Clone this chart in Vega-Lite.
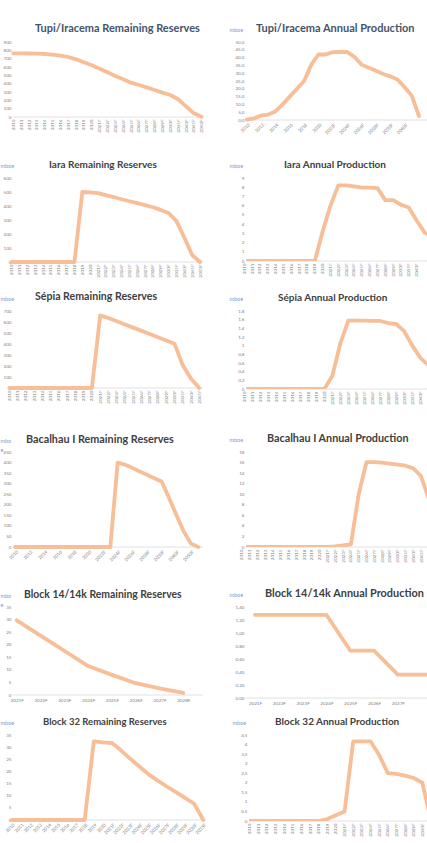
{
  "$schema": "https://vega.github.io/schema/vega-lite/v6.json",
  "padding": {"top": 22, "left": 0, "right": 0, "bottom": 0},
  "background": "white",
  "config": {
    "view": {"stroke": null},
    "font": "Lato",
    "axis": {"grid": false, "ticks": false, "domain": false, "labelOverlap": false, "labelFont": "Lato", "labelFontSize": 4.6, "labelColor": "#7F7F7F", "labelPadding": 2, "titleFont": "Lato", "titleFontSize": 5.5, "titleFontWeight": "normal", "titleColor": "#7C9CD4"},
    "axisY": {"titleAngle": 0, "titleAlign": "left", "titleBaseline": "middle", "titleY": -13},
    "title": {"font": "Lato", "fontSize": 10, "fontWeight": "bold", "color": "#404040", "frame": "group", "anchor": "start", "baseline": "middle", "offset": -6.75},
    "line": {"color": "#F7BE97", "strokeWidth": 3.8, "strokeJoin": "round", "strokeCap": "round"}
  },
  "datasets": {
    "tupi_res": [
      {"year": "2010", "value": 764}, {"year": "2011", "value": 764}, {"year": "2012", "value": 762}, {"year": "2013", "value": 760}, {"year": "2014", "value": 756}, {"year": "2015", "value": 748}, {"year": "2016", "value": 736}, {"year": "2017", "value": 720}, {"year": "2018", "value": 692}, {"year": "2019", "value": 656}, {"year": "2020", "value": 620}, {"year": "2021F", "value": 580}, {"year": "2022F", "value": 536}, {"year": "2023F", "value": 492}, {"year": "2024F", "value": 452}, {"year": "2025F", "value": 412}, {"year": "2026F", "value": 384}, {"year": "2027F", "value": 356}, {"year": "2028F", "value": 324}, {"year": "2029F", "value": 292}, {"year": "2030F", "value": 264}, {"year": "2035F", "value": 213}, {"year": "2040F", "value": 128}, {"year": "2045F", "value": 44}, {"year": "2050F", "value": 4}
    ],
    "tupi_prod": [
      {"year": "2010", "value": 0.3}, {"year": "2011", "value": 1.0}, {"year": "2012", "value": 2.8}, {"year": "2013", "value": 3.5}, {"year": "2014", "value": 5.5}, {"year": "2015", "value": 10.0}, {"year": "2016", "value": 15.0}, {"year": "2017", "value": 20.0}, {"year": "2018", "value": 25.0}, {"year": "2019", "value": 35.5}, {"year": "2020", "value": 42.0}, {"year": "2021F", "value": 42.0}, {"year": "2022F", "value": 43.5}, {"year": "2023F", "value": 43.6}, {"year": "2024F", "value": 43.6}, {"year": "2025F", "value": 40.5}, {"year": "2026F", "value": 35.5}, {"year": "2027F", "value": 33.5}, {"year": "2028F", "value": 31.5}, {"year": "2029F", "value": 29.5}, {"year": "2030F", "value": 28.0}, {"year": "2035F", "value": 26.0}, {"year": "2040F", "value": 21.0}, {"year": "2045F", "value": 15.5}, {"year": "2050F", "value": 2.5}
    ],
    "iara_res": [
      {"year": "2010", "value": 0}, {"year": "2011", "value": 0}, {"year": "2012", "value": 0}, {"year": "2013", "value": 0}, {"year": "2014", "value": 0}, {"year": "2015", "value": 0}, {"year": "2016", "value": 0}, {"year": "2017", "value": 0}, {"year": "2018", "value": 0}, {"year": "2019", "value": 500}, {"year": "2020", "value": 498}, {"year": "2021F", "value": 492}, {"year": "2022F", "value": 478}, {"year": "2023F", "value": 464}, {"year": "2024F", "value": 448}, {"year": "2025F", "value": 434}, {"year": "2026F", "value": 420}, {"year": "2027F", "value": 406}, {"year": "2028F", "value": 391}, {"year": "2029F", "value": 372}, {"year": "2030F", "value": 350}, {"year": "2035F", "value": 292}, {"year": "2040F", "value": 175}, {"year": "2045F", "value": 50}, {"year": "2050F", "value": 0}
    ],
    "iara_prod": [
      {"year": "2010", "value": 0}, {"year": "2011", "value": 0}, {"year": "2012", "value": 0}, {"year": "2013", "value": 0}, {"year": "2014", "value": 0}, {"year": "2015", "value": 0}, {"year": "2016", "value": 0}, {"year": "2017", "value": 0}, {"year": "2018", "value": 0}, {"year": "2019", "value": 0}, {"year": "2020", "value": 3.2}, {"year": "2021F", "value": 6.0}, {"year": "2022F", "value": 8.2}, {"year": "2023F", "value": 8.2}, {"year": "2024F", "value": 8.1}, {"year": "2025F", "value": 7.95}, {"year": "2026F", "value": 7.95}, {"year": "2027F", "value": 7.9}, {"year": "2028F", "value": 6.6}, {"year": "2029F", "value": 6.6}, {"year": "2030F", "value": 6.1}, {"year": "2035F", "value": 5.8}, {"year": "2040F", "value": 4.4}, {"year": "2045F", "value": 3.1}, {"year": "2050F", "value": 2.6}
    ],
    "sepia_res": [
      {"year": "2010", "value": 0}, {"year": "2011", "value": 0}, {"year": "2012", "value": 0}, {"year": "2013", "value": 0}, {"year": "2014", "value": 0}, {"year": "2015", "value": 0}, {"year": "2016", "value": 0}, {"year": "2017", "value": 0}, {"year": "2018", "value": 0}, {"year": "2019", "value": 0}, {"year": "2020", "value": 0}, {"year": "2021F", "value": 660}, {"year": "2022F", "value": 636}, {"year": "2023F", "value": 607}, {"year": "2024F", "value": 578}, {"year": "2025F", "value": 549}, {"year": "2026F", "value": 520}, {"year": "2027F", "value": 490}, {"year": "2028F", "value": 461}, {"year": "2029F", "value": 432}, {"year": "2030F", "value": 403}, {"year": "2035F", "value": 206}, {"year": "2040F", "value": 85}, {"year": "2045F", "value": 0}
    ],
    "sepia_prod": [
      {"year": "2010", "value": 0}, {"year": "2011", "value": 0}, {"year": "2012", "value": 0}, {"year": "2013", "value": 0}, {"year": "2014", "value": 0}, {"year": "2015", "value": 0}, {"year": "2016", "value": 0}, {"year": "2017", "value": 0}, {"year": "2018", "value": 0}, {"year": "2019", "value": 0}, {"year": "2020", "value": 0}, {"year": "2021F", "value": 0.3}, {"year": "2022F", "value": 1.05}, {"year": "2023F", "value": 1.58}, {"year": "2024F", "value": 1.58}, {"year": "2025F", "value": 1.58}, {"year": "2026F", "value": 1.57}, {"year": "2027F", "value": 1.57}, {"year": "2028F", "value": 1.52}, {"year": "2029F", "value": 1.5}, {"year": "2030F", "value": 1.33}, {"year": "2035F", "value": 1.0}, {"year": "2040F", "value": 0.72}, {"year": "2045F", "value": 0.55}
    ],
    "bac_res": [
      {"year": "2010", "value": 0}, {"year": "2011", "value": 0}, {"year": "2012", "value": 0}, {"year": "2013", "value": 0}, {"year": "2014", "value": 0}, {"year": "2015", "value": 0}, {"year": "2016", "value": 0}, {"year": "2017", "value": 0}, {"year": "2018", "value": 0}, {"year": "2019", "value": 0}, {"year": "2020", "value": 0}, {"year": "2021F", "value": 0}, {"year": "2022F", "value": 0}, {"year": "2023F", "value": 0}, {"year": "2024F", "value": 400}, {"year": "2025F", "value": 390}, {"year": "2026F", "value": 375}, {"year": "2027F", "value": 358}, {"year": "2028F", "value": 342}, {"year": "2029F", "value": 326}, {"year": "2030F", "value": 310}, {"year": "2035F", "value": 233}, {"year": "2040F", "value": 153}, {"year": "2045F", "value": 74}, {"year": "2050F", "value": 16}, {"year": "2055F", "value": 0}
    ],
    "bac_prod": [
      {"year": "2010", "value": 0}, {"year": "2011", "value": 0}, {"year": "2012", "value": 0}, {"year": "2013", "value": 0}, {"year": "2014", "value": 0}, {"year": "2015", "value": 0}, {"year": "2016", "value": 0}, {"year": "2017", "value": 0}, {"year": "2018", "value": 0}, {"year": "2019", "value": 0}, {"year": "2020", "value": 0}, {"year": "2021F", "value": 0}, {"year": "2022F", "value": 0.1}, {"year": "2023F", "value": 0.3}, {"year": "2024F", "value": 0.5}, {"year": "2025F", "value": 10.0}, {"year": "2026F", "value": 16.1}, {"year": "2027F", "value": 16.1}, {"year": "2028F", "value": 16.0}, {"year": "2029F", "value": 15.8}, {"year": "2030F", "value": 15.6}, {"year": "2035F", "value": 15.4}, {"year": "2040F", "value": 14.9}, {"year": "2045F", "value": 13.4}, {"year": "2050F", "value": 9.0}, {"year": "2055F", "value": 3.0}
    ],
    "b14_res": [
      {"year": "2021F", "value": 29.7}, {"year": "2022F", "value": 23.6}, {"year": "2023F", "value": 17.6}, {"year": "2024F", "value": 11.5}, {"year": "2025F", "value": 8.0}, {"year": "2026F", "value": 4.7}, {"year": "2027F", "value": 2.6}, {"year": "2028F", "value": 0.8}
    ],
    "b14_prod": [
      {"year": "2021F", "value": 1.28}, {"year": "2022F", "value": 1.28}, {"year": "2023F", "value": 1.28}, {"year": "2024F", "value": 1.28}, {"year": "2025F", "value": 0.73}, {"year": "2026F", "value": 0.73}, {"year": "2027F", "value": 0.36}, {"year": "2028F", "value": 0.36}, {"year": "2029F", "value": 0.36}
    ],
    "b32_res": [
      {"year": "2010", "value": 0}, {"year": "2011", "value": 0}, {"year": "2012", "value": 0}, {"year": "2013", "value": 0}, {"year": "2014", "value": 0}, {"year": "2015", "value": 0}, {"year": "2016", "value": 0}, {"year": "2017", "value": 0}, {"year": "2018", "value": 0}, {"year": "2019", "value": 32.4}, {"year": "2020", "value": 32.0}, {"year": "2021F", "value": 31.7}, {"year": "2022F", "value": 28.6}, {"year": "2023F", "value": 25.2}, {"year": "2024F", "value": 22.0}, {"year": "2025F", "value": 18.8}, {"year": "2026F", "value": 16.2}, {"year": "2027F", "value": 13.8}, {"year": "2028F", "value": 11.5}, {"year": "2029F", "value": 9.1}, {"year": "2030F", "value": 6.7}, {"year": "2035F", "value": 0}
    ],
    "b32_prod": [
      {"year": "2010", "value": 0}, {"year": "2011", "value": 0}, {"year": "2012", "value": 0}, {"year": "2013", "value": 0}, {"year": "2014", "value": 0}, {"year": "2015", "value": 0}, {"year": "2016", "value": 0}, {"year": "2017", "value": 0}, {"year": "2018", "value": 0}, {"year": "2019", "value": 0.1}, {"year": "2020", "value": 0.3}, {"year": "2021F", "value": 0.5}, {"year": "2022F", "value": 4.17}, {"year": "2023F", "value": 4.17}, {"year": "2024F", "value": 4.17}, {"year": "2025F", "value": 3.45}, {"year": "2026F", "value": 2.5}, {"year": "2027F", "value": 2.47}, {"year": "2028F", "value": 2.37}, {"year": "2029F", "value": 2.25}, {"year": "2030F", "value": 2.0}, {"year": "2035F", "value": 0}
    ]
  },
  "vconcat": [
    {
      "hconcat": [
        {
          "width": 190, "height": 75,
          "title": {"text": "Tupi/Iracema Remaining Reserves", "color": "#44546A", "fontSize": 11, "dx": 22},
          "layer": [
            {"data": {"values": [{}]}, "mark": {"type": "rule", "color": "#D9D9D9", "strokeWidth": 0.8}, "encoding": {"y": {"datum": 0, "type": "quantitative", "axis": {"title": "mboe", "titleOpacity": 0, "titleX": -13, "minExtent": 13, "values": [0, 100, 200, 300, 400, 500, 600, 700, 800, 900]}}}},
            {"data": {"name": "tupi_res"}, "mark": "line", "encoding": {
              "x": {"field": "year", "type": "ordinal", "sort": null, "scale": {"type": "point", "padding": 0, "range": [0.3, 188.7]}, "axis": {"title": null, "labelAngle": -90, "minExtent": 36.5}},
              "y": {"field": "value", "type": "quantitative", "scale": {"domain": [0, 900], "nice": false}, "axis": {"title": "mboe", "titleOpacity": 0, "titleX": -13, "minExtent": 13, "values": [0, 100, 200, 300, 400, 500, 600, 700, 800, 900]}}
            }}
          ]
        },
        {
          "width": 181, "height": 78,
          "title": {"text": "Tupi/Iracema Annual Production", "color": "#44546A", "fontSize": 11, "dx": 10},
          "layer": [
            {"data": {"values": [{}]}, "mark": {"type": "rule", "color": "#D9D9D9", "strokeWidth": 0.8}, "encoding": {"y": {"datum": 0, "type": "quantitative", "axis": {"title": "mboe", "titleX": -17, "minExtent": 17, "values": [0, 5, 10, 15, 20, 25, 30, 35, 40, 45, 50], "format": ".1f", "labelExpr": "replace(datum.label, '.', ',')"}}}},
            {"data": {"name": "tupi_prod"}, "mark": "line", "encoding": {
              "x": {"field": "year", "type": "ordinal", "sort": null, "scale": {"type": "point", "padding": 0, "range": [0.7, 173]}, "axis": {"title": null, "labelAngle": -45, "minExtent": 36.5, "values": ["2010", "2012", "2014", "2016", "2018", "2020", "2022F", "2024F", "2026F", "2028F", "2030F", "2040F"]}},
              "y": {"field": "value", "type": "quantitative", "scale": {"domain": [0, 50], "nice": false}, "axis": {"title": "mboe", "titleX": -17, "minExtent": 17, "values": [0, 5, 10, 15, 20, 25, 30, 35, 40, 45, 50], "format": ".1f", "labelExpr": "replace(datum.label, '.', ',')"}}
            }}
          ]
        }
      ],
      "spacing": 25
    },
    {
      "hconcat": [
        {
          "width": 190, "height": 84,
          "title": {"text": "Iara Remaining Reserves", "dx": 36},
          "layer": [
            {"data": {"values": [{}]}, "mark": {"type": "rule", "color": "#D9D9D9", "strokeWidth": 0.8}, "encoding": {"y": {"datum": 0, "type": "quantitative", "axis": {"title": "mboe", "titleX": -13, "minExtent": 13, "values": [0, 100, 200, 300, 400, 500, 600]}}}},
            {"data": {"name": "iara_res"}, "mark": "line", "encoding": {
              "x": {"field": "year", "type": "ordinal", "sort": null, "scale": {"type": "point", "padding": 0, "range": [-1.3, 187]}, "axis": {"title": null, "labelAngle": -90, "minExtent": 27.25}},
              "y": {"field": "value", "type": "quantitative", "scale": {"domain": [0, 600], "nice": false}, "axis": {"title": "mboe", "titleX": -13, "minExtent": 13, "values": [0, 100, 200, 300, 400, 500, 600]}}
            }}
          ]
        },
        {
          "width": 181, "height": 83,
          "title": {"text": "Iara Annual Production", "dx": 38},
          "layer": [
            {"data": {"values": [{}]}, "mark": {"type": "rule", "color": "#D9D9D9", "strokeWidth": 0.8}, "encoding": {"y": {"datum": 0, "type": "quantitative", "axis": {"title": "mboe", "titleX": -17, "minExtent": 17, "values": [0, 1, 2, 3, 4, 5, 6, 7, 8, 9]}}}},
            {"data": {"name": "iara_prod"}, "mark": {"type": "line", "clip": true}, "encoding": {
              "x": {"field": "year", "type": "ordinal", "sort": null, "scale": {"type": "point", "padding": 0, "range": [-1.7, 186.3]}, "axis": {"title": null, "labelAngle": -90, "minExtent": 27.25, "values": ["2010", "2011", "2012", "2013", "2014", "2015", "2016", "2017", "2018", "2019", "2020", "2021F", "2022F", "2023F", "2024F", "2025F", "2026F", "2027F", "2028F", "2029F", "2030F", "2035F", "2040F"]}},
              "y": {"field": "value", "type": "quantitative", "scale": {"domain": [0, 9], "nice": false}, "axis": {"title": "mboe", "titleX": -17, "minExtent": 17, "values": [0, 1, 2, 3, 4, 5, 6, 7, 8, 9]}}
            }}
          ]
        }
      ],
      "spacing": 25
    },
    {
      "hconcat": [
        {
          "width": 190, "height": 77,
          "title": {"text": "Sépia Remaining Reserves", "dx": 22, "fontSize": 10.6},
          "layer": [
            {"data": {"values": [{}]}, "mark": {"type": "rule", "color": "#D9D9D9", "strokeWidth": 0.8}, "encoding": {"y": {"datum": 0, "type": "quantitative", "axis": {"title": "mboe", "titleX": -13, "minExtent": 13, "values": [0, 100, 200, 300, 400, 500, 600, 700]}}}},
            {"data": {"name": "sepia_res"}, "mark": "line", "encoding": {
              "x": {"field": "year", "type": "ordinal", "sort": null, "scale": {"type": "point", "padding": 0, "range": [-3.7, 186.3]}, "axis": {"title": null, "labelAngle": -90, "minExtent": 40.25}},
              "y": {"field": "value", "type": "quantitative", "scale": {"domain": [0, 700], "nice": false}, "axis": {"title": "mboe", "titleX": -13, "minExtent": 13, "values": [0, 100, 200, 300, 400, 500, 600, 700]}}
            }}
          ]
        },
        {
          "width": 181, "height": 78,
          "title": {"text": "Sépia Annual Production", "dx": 32},
          "layer": [
            {"data": {"values": [{}]}, "mark": {"type": "rule", "color": "#D9D9D9", "strokeWidth": 0.8}, "encoding": {"y": {"datum": 0, "type": "quantitative", "axis": {"title": "mboe", "titleX": -17, "minExtent": 17, "values": [0, 0.2, 0.4, 0.6, 0.8, 1, 1.2, 1.4, 1.6, 1.8], "format": "~g", "labelExpr": "replace(datum.label, '.', ',')"}}}},
            {"data": {"name": "sepia_prod"}, "mark": {"type": "line", "clip": true}, "encoding": {
              "x": {"field": "year", "type": "ordinal", "sort": null, "scale": {"type": "point", "padding": 0, "range": [-1.7, 182.3]}, "axis": {"title": null, "labelAngle": -90, "minExtent": 40.25, "values": ["2010", "2011", "2012", "2013", "2014", "2015", "2016", "2017", "2018", "2019", "2020", "2021F", "2022F", "2023F", "2024F", "2025F", "2026F", "2027F", "2028F", "2029F", "2030F", "2035F", "2040F"]}},
              "y": {"field": "value", "type": "quantitative", "scale": {"domain": [0, 1.8], "nice": false}, "axis": {"title": "mboe", "titleX": -17, "minExtent": 17, "values": [0, 0.2, 0.4, 0.6, 0.8, 1, 1.2, 1.4, 1.6, 1.8], "format": "~g", "labelExpr": "replace(datum.label, '.', ',')"}}
            }}
          ]
        }
      ],
      "spacing": 25
    },
    {
      "hconcat": [
        {
          "width": 190, "height": 95,
          "title": {"text": "Bacalhau I Remaining Reserves", "dx": 13, "fontSize": 10.8},
          "layer": [
            {"data": {"values": [{}]}, "mark": {"type": "rule", "color": "#D9D9D9", "strokeWidth": 0.8}, "encoding": {"y": {"datum": 0, "type": "quantitative", "axis": {"title": ["mbo", "e"], "titleLineHeight": 9, "titleY": -11.5, "titleX": -13, "minExtent": 13, "values": [0, 50, 100, 150, 200, 250, 300, 350, 400, 450]}}}},
            {"data": {"name": "bac_res"}, "mark": "line", "encoding": {
              "x": {"field": "year", "type": "ordinal", "sort": null, "scale": {"type": "point", "padding": 0, "range": [2, 185.3]}, "axis": {"title": null, "labelAngle": -45, "minExtent": 37.25, "values": ["2010", "2012", "2014", "2016", "2018", "2020", "2022F", "2024F", "2026F", "2028F", "2030F", "2040F", "2050F"]}},
              "y": {"field": "value", "type": "quantitative", "scale": {"domain": [0, 450], "nice": false}, "axis": {"title": ["mbo", "e"], "titleLineHeight": 9, "titleY": -11.5, "titleX": -13, "minExtent": 13, "values": [0, 50, 100, 150, 200, 250, 300, 350, 400, 450]}}
            }}
          ]
        },
        {
          "width": 181, "height": 95,
          "title": {"text": "Bacalhau I Annual Production", "dx": 21, "fontSize": 10.8},
          "layer": [
            {"data": {"values": [{}]}, "mark": {"type": "rule", "color": "#D9D9D9", "strokeWidth": 0.8}, "encoding": {"y": {"datum": 0, "type": "quantitative", "axis": {"title": "mboe", "titleX": -17, "minExtent": 17, "values": [0, 2, 4, 6, 8, 10, 12, 14, 16, 18]}}}},
            {"data": {"name": "bac_prod"}, "mark": {"type": "line", "clip": true}, "encoding": {
              "x": {"field": "year", "type": "ordinal", "sort": null, "scale": {"type": "point", "padding": 0, "range": [-4.3, 190.7]}, "axis": {"title": null, "labelAngle": -90, "minExtent": 37.25, "values": ["2010", "2011", "2012", "2013", "2014", "2015", "2016", "2017", "2018", "2019", "2020", "2021F", "2022F", "2023F", "2024F", "2025F", "2026F", "2027F", "2028F", "2029F", "2030F", "2035F", "2040F", "2045F"]}},
              "y": {"field": "value", "type": "quantitative", "scale": {"domain": [0, 18], "nice": false}, "axis": {"title": "mboe", "titleX": -17, "minExtent": 17, "values": [0, 2, 4, 6, 8, 10, 12, 14, 16, 18]}}
            }}
          ]
        }
      ],
      "spacing": 25
    },
    {
      "hconcat": [
        {
          "width": 190, "height": 88,
          "title": {"text": "Block 14/14k Remaining Reserves", "dx": 11, "fontSize": 10.4},
          "layer": [
            {"data": {"values": [{}]}, "mark": {"type": "rule", "color": "#D9D9D9", "strokeWidth": 0.8}, "encoding": {"y": {"datum": 0, "type": "quantitative", "axis": {"title": ["mbo", "e"], "titleLineHeight": 9, "titleY": -11.5, "titleX": -13, "minExtent": 13, "values": [0, 5, 10, 15, 20, 25, 30, 35]}}}},
            {"data": {"name": "b14_res"}, "mark": "line", "encoding": {
              "x": {"field": "year", "type": "ordinal", "sort": null, "scale": {"type": "point", "padding": 0, "range": [3.7, 170.3]}, "axis": {"title": null, "labelAngle": 0, "minExtent": 15.25}},
              "y": {"field": "value", "type": "quantitative", "scale": {"domain": [0, 35], "nice": false}, "axis": {"title": ["mbo", "e"], "titleLineHeight": 9, "titleY": -11.5, "titleX": -13, "minExtent": 13, "values": [0, 5, 10, 15, 20, 25, 30, 35]}}
            }}
          ]
        },
        {
          "width": 181, "height": 91,
          "title": {"text": "Block 14/14k Annual Production", "dx": 19, "fontSize": 10.9},
          "layer": [
            {"data": {"values": [{}]}, "mark": {"type": "rule", "color": "#D9D9D9", "strokeWidth": 0.8}, "encoding": {"y": {"datum": 0, "type": "quantitative", "axis": {"title": "mboe", "titleX": -17, "minExtent": 17, "values": [0, 0.2, 0.4, 0.6, 0.8, 1, 1.2, 1.4], "format": ".2f", "labelExpr": "replace(datum.label, '.', ',')"}}}},
            {"data": {"name": "b14_prod"}, "mark": {"type": "line", "clip": true}, "encoding": {
              "x": {"field": "year", "type": "ordinal", "sort": null, "scale": {"type": "point", "padding": 0, "range": [9, 199.4]}, "axis": {"title": null, "labelAngle": 0, "minExtent": 15.25, "values": ["2021F", "2022F", "2023F", "2024F", "2025F", "2026F", "2027F"]}},
              "y": {"field": "value", "type": "quantitative", "scale": {"domain": [0, 1.4], "nice": false}, "axis": {"title": "mboe", "titleX": -17, "minExtent": 17, "values": [0, 0.2, 0.4, 0.6, 0.8, 1, 1.2, 1.4], "format": ".2f", "labelExpr": "replace(datum.label, '.', ',')"}}
            }}
          ]
        }
      ],
      "spacing": 25
    },
    {
      "hconcat": [
        {
          "width": 190, "height": 85,
          "title": {"text": "Block 32 Remaining Reserves", "dx": 30, "fontSize": 9.5},
          "layer": [
            {"data": {"values": [{}]}, "mark": {"type": "rule", "color": "#D9D9D9", "strokeWidth": 0.8}, "encoding": {"y": {"datum": 0, "type": "quantitative", "axis": {"title": "mboe", "titleX": -13, "minExtent": 13, "values": [0, 5, 10, 15, 20, 25, 30, 35]}}}},
            {"data": {"name": "b32_res"}, "mark": "line", "encoding": {
              "x": {"field": "year", "type": "ordinal", "sort": null, "scale": {"type": "point", "padding": 0, "range": [-1.3, 190.3]}, "axis": {"title": null, "labelAngle": -45, "minExtent": 16}},
              "y": {"field": "value", "type": "quantitative", "scale": {"domain": [0, 35], "nice": false}, "axis": {"title": "mboe", "titleX": -13, "minExtent": 13, "values": [0, 5, 10, 15, 20, 25, 30, 35]}}
            }}
          ]
        },
        {
          "width": 181, "height": 86,
          "title": {"text": "Block 32 Annual Production", "dx": 26},
          "layer": [
            {"data": {"values": [{}]}, "mark": {"type": "rule", "color": "#D9D9D9", "strokeWidth": 0.8}, "encoding": {"y": {"datum": 0, "type": "quantitative", "axis": {"title": "mboe", "titleX": -17, "minExtent": 17, "values": [0, 0.5, 1, 1.5, 2, 2.5, 3, 3.5, 4, 4.5], "format": "~g", "labelExpr": "replace(datum.label, '.', ',')"}}}},
            {"data": {"name": "b32_prod"}, "mark": {"type": "line", "clip": true}, "encoding": {
              "x": {"field": "year", "type": "ordinal", "sort": null, "scale": {"type": "point", "padding": 0, "range": [0.5, 182]}, "axis": {"title": null, "labelAngle": -90, "minExtent": 16, "values": ["2010", "2011", "2012", "2013", "2014", "2015", "2016", "2017", "2018", "2019", "2020", "2021F", "2022F", "2023F", "2024F", "2025F", "2026F", "2027F", "2028F", "2029F", "2030F"]}},
              "y": {"field": "value", "type": "quantitative", "scale": {"domain": [0, 4.5], "nice": false}, "axis": {"title": "mboe", "titleX": -17, "minExtent": 17, "values": [0, 0.5, 1, 1.5, 2, 2.5, 3, 3.5, 4, 4.5], "format": "~g", "labelExpr": "replace(datum.label, '.', ',')"}}
            }}
          ]
        }
      ],
      "spacing": 25
    }
  ],
  "spacing": 2
}
